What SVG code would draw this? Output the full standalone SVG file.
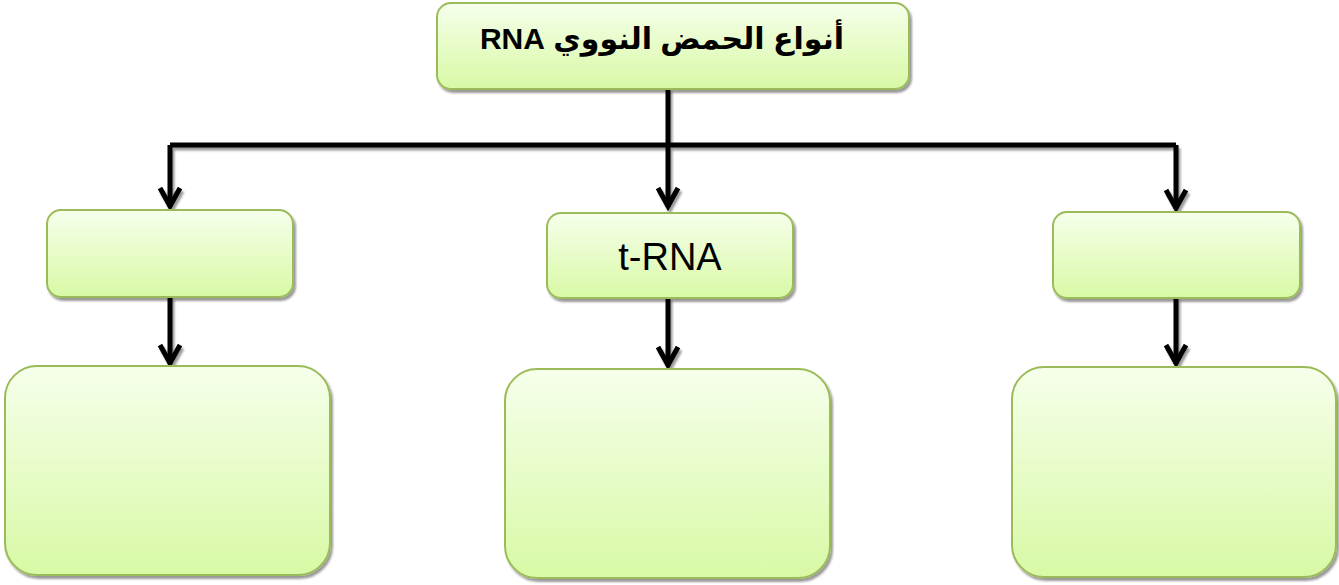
<svg xmlns="http://www.w3.org/2000/svg" width="1339" height="585" viewBox="0 0 1339 585">
<style>
.box{fill:url(#g);stroke:#9bbb59;stroke-width:2;filter:url(#sh)}
.ln{fill:none;stroke:#000;stroke-width:5;stroke-linejoin:miter}
.ah{fill:none;stroke:#000;stroke-width:5;stroke-linecap:butt;stroke-linejoin:miter}
.title{font-family:"Liberation Sans","DejaVu Sans",sans-serif;font-weight:bold;font-size:30px;fill:#000}
.lbl{font-family:"Liberation Sans","DejaVu Sans",sans-serif;font-size:38px;fill:#000}
</style>
<defs>
<linearGradient id="g" x1="0" y1="0" x2="0" y2="1">
<stop offset="0" stop-color="#f6ffeb"/>
<stop offset="1" stop-color="#d8f9a5"/>
</linearGradient>
<filter id="sh" x="-10%" y="-10%" width="130%" height="130%">
<feDropShadow dx="2" dy="3" stdDeviation="1.2" flood-color="#000" flood-opacity="0.4"/>
</filter>
</defs>
<g id="connectors" filter="url(#sh)">
<path class="ln" d="M668,89 V145 M170,145 H1176 M170,145 V207 M668,145 V207 M1176,145 V209"/>
<path class="ah" d="M160,188 L170,206 L180,188 M658,188 L668,206 L678,188 M1166,190 L1176,208 L1186,190"/>
<path class="ln" d="M170,297 V364 M668,298 V366 M1176,298 V364"/>
<path class="ah" d="M160,345 L170,363 L180,345 M658,347 L668,365 L678,347 M1166,345 L1176,363 L1186,345"/>
</g>
<g id="top">
<rect class="box" x="437" y="3" width="472" height="86" rx="14"/>
<text class="title" x="662" y="49" text-anchor="middle" direction="rtl">أنواع الحمض النووي RNA</text>
</g>
<g id="mid-left"><rect class="box" x="47" y="210" width="246" height="87" rx="14"/></g>
<g id="mid-center">
<rect class="box" x="547" y="213" width="246" height="85" rx="14"/>
<text class="lbl" x="670" y="270" text-anchor="middle">t-RNA</text>
</g>
<g id="mid-right"><rect class="box" x="1053" y="212" width="247" height="86" rx="14"/></g>
<g id="bot-left"><rect class="box" x="5" y="366" width="325" height="209" rx="32"/></g>
<g id="bot-center"><rect class="box" x="505" y="369" width="325" height="209" rx="32"/></g>
<g id="bot-right"><rect class="box" x="1012" y="367" width="324" height="210" rx="32"/></g>
</svg>
